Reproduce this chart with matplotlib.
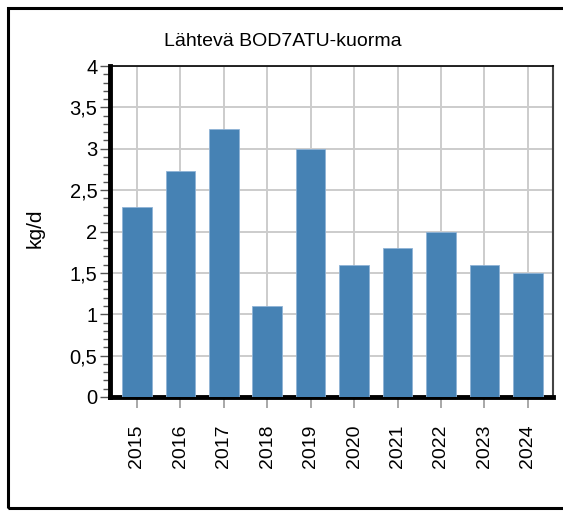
import matplotlib
matplotlib.use("Agg")
import matplotlib.pyplot as plt
from matplotlib.patches import Rectangle
from matplotlib.ticker import MultipleLocator, FuncFormatter

# data
years = ["2015", "2016", "2017", "2018", "2019", "2020", "2021", "2022", "2023", "2024"]
values = [2.3, 2.73, 3.24, 1.1, 3.0, 1.6, 1.8, 2.0, 1.6, 1.5]

plt.rcParams["font.family"] = ["Liberation Sans", "DejaVu Sans"]

W, H = 563, 514
fig = plt.figure(figsize=(W / 100, H / 100), dpi=100)

# outer frame
fig.patches.append(Rectangle((8 / W, 6 / H), 1.2, 1 - 14 / H, transform=fig.transFigure,
                             fill=False, edgecolor="black", linewidth=2.2))

ax = fig.add_axes([110 / W, (H - 397) / H, (553 - 110) / W, (397 - 66) / H])
x = range(len(years))
ax.bar(x, values, width=0.68, color="#4682b4", edgecolor="#8fb3d6", linewidth=0.6, zorder=3)

ax.set_xlim(-0.62, len(years) - 0.42)
ax.set_ylim(0, 4)
ax.set_xticks(list(x))
ax.set_xticklabels(years, rotation=90, fontsize=14)
ax.yaxis.set_major_locator(MultipleLocator(0.5))
ax.yaxis.set_minor_locator(MultipleLocator(0.1))
ax.yaxis.set_major_formatter(FuncFormatter(lambda v, p: f"{v:g}".replace(".", ",")))
ax.tick_params(axis="y", labelsize=14.5, length=7, width=1, color="#555555", pad=2)
ax.tick_params(axis="y", which="minor", length=5, width=1, color="#555555")
ax.tick_params(axis="x", length=8, width=1.2, color="#999999", pad=12)

ax.grid(True, color="#cccccc", linewidth=1.4, zorder=0)
ax.set_axisbelow(True)

ax.spines["left"].set_linewidth(3.5)
ax.spines["bottom"].set_linewidth(3.5)
ax.spines["left"].set_color("black")
ax.spines["bottom"].set_color("black")
ax.spines["top"].set_linewidth(1.2)
ax.spines["right"].set_linewidth(1.5)
ax.spines["right"].set_color("#444444")

fig.text(283 / W, 1 - 42 / H, "Lähtevä BOD7ATU-kuorma", ha="center", va="center", fontsize=14)
fig.text(35 / W, 1 - 228 / H, "kg/d", rotation=90, ha="center", va="center", fontsize=15)

fig.savefig("out.png", dpi=100)
